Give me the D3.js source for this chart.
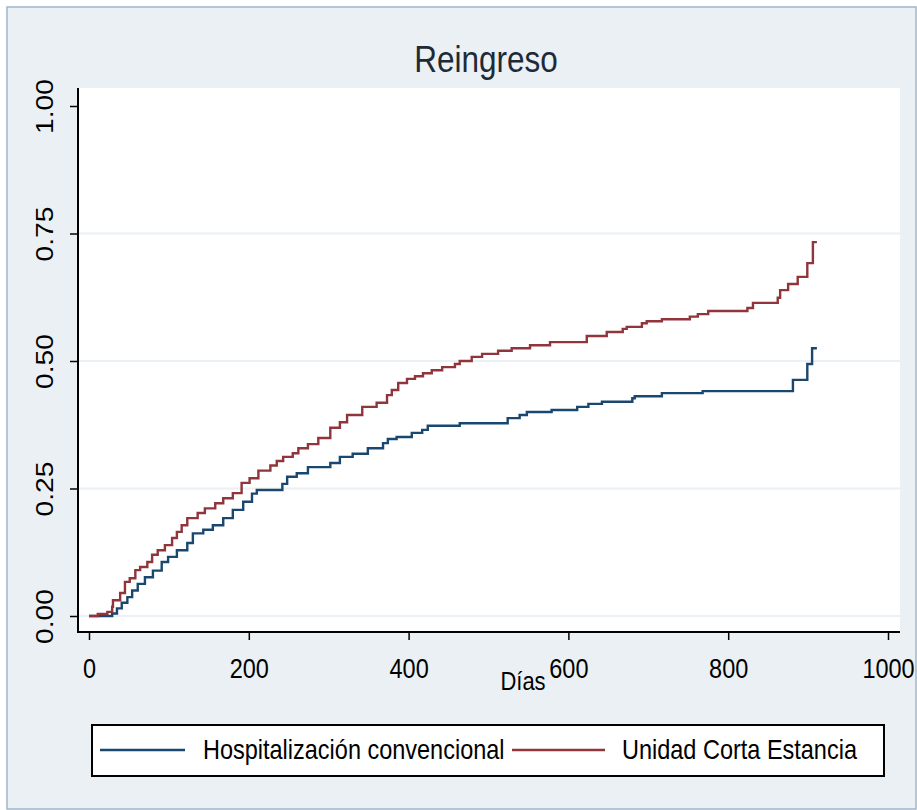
<!doctype html>
<html lang="es">
<head>
  <meta charset="utf-8">
  <title>Reingreso</title>
  <script src="https://cdnjs.cloudflare.com/ajax/libs/d3/7.8.5/d3.min.js"></script>
  <style>
    body { margin: 0; background: #ffffff; }
    text { font-family: "Liberation Sans", Arial, sans-serif; }
  </style>
</head>
<body>
<div id="chart"></div>
<script>

// days and cumulative failure (1 - S)
var convDays = [0, 29, 35, 41, 48, 54, 61, 70, 80, 91, 99, 110, 123, 130, 143, 155, 168, 180, 193, 204, 210,
  242, 248, 260, 274, 302, 314, 330, 349, 368, 374, 385, 404, 417, 424, 464, 524, 539, 548, 579, 611,
  625, 642, 680, 683, 717, 768, 881, 899, 905, 911];
var convVals = [0, 0.005, 0.015, 0.026, 0.037, 0.05, 0.063, 0.076, 0.089, 0.106, 0.116, 0.129, 0.143, 0.162, 0.169, 0.178, 0.192, 0.208, 0.224, 0.24, 0.247,
  0.259, 0.273, 0.28, 0.292, 0.30, 0.312, 0.318, 0.329, 0.339, 0.347, 0.351, 0.359, 0.365, 0.373, 0.378, 0.388, 0.394, 0.40, 0.404, 0.41,
  0.416, 0.42, 0.427, 0.431, 0.437, 0.441, 0.463, 0.494, 0.525, 0.525];

var uceDays = [0, 11, 23, 29, 30, 39, 45, 51, 58, 64, 73, 79, 86, 95, 104, 110, 116, 123, 136, 145, 158, 168, 180,
  191, 201, 212, 227, 235, 243, 255, 262, 274, 287, 302, 314, 323, 342, 360, 373, 379, 387, 398, 408, 418, 429,
  442, 458, 464, 479, 492, 512, 529, 552, 577, 623, 648, 668, 673, 692, 698, 717, 752, 762, 775, 824, 831,
  862, 865, 875, 887, 899, 906, 911];
var uceVals = [0, 0.004, 0.008, 0.018, 0.031, 0.045, 0.067, 0.074, 0.09, 0.096, 0.106, 0.12, 0.129, 0.139, 0.153, 0.165, 0.178, 0.192, 0.202, 0.211, 0.221, 0.231, 0.241,
  0.261, 0.27, 0.285, 0.295, 0.304, 0.312, 0.319, 0.329, 0.337, 0.349, 0.369, 0.38, 0.394, 0.41, 0.418, 0.433, 0.443, 0.457, 0.465, 0.47, 0.476, 0.482,
  0.488, 0.494, 0.5, 0.508, 0.514, 0.52, 0.525, 0.531, 0.537, 0.549, 0.557, 0.563, 0.567, 0.574, 0.578, 0.582, 0.587, 0.592, 0.598, 0.604, 0.614,
  0.624, 0.639, 0.651, 0.665, 0.692, 0.733, 0.733];

var seriesNames = ["Hospitalización convencional", "Unidad Corta Estancia"];
var seriesColors = ["#1a476f", "#90353b"];
var xTicks = [0, 200, 400, 600, 800, 1000];
var yTicks = [0, 0.25, 0.5, 0.75, 1];

var W = 917, H = 810;
var plot = {left: 78, right: 900, top: 88, bottom: 632};
var stretch = 1.2;   // the picture's text is drawn taller than wide

var svg = d3.select("#chart").append("svg")
  .attr("width", W)
  .attr("height", H);

// graph region
svg.append("rect")
  .attr("x", 7).attr("y", 7)
  .attr("width", W - 8).attr("height", H - 8)
  .attr("fill", "#eaf0f3")
  .attr("stroke", "#9fb6cc")
  .attr("stroke-width", 1.5);

svg.append("rect")
  .attr("x", plot.left).attr("y", plot.top)
  .attr("width", plot.right - plot.left).attr("height", plot.bottom - plot.top)
  .attr("fill", "#ffffff");

var x = d3.scaleLinear().domain([0, 1000]).range([89, 888]);
var y = d3.scaleLinear().domain([0, 1]).range([616, 106]);

// grid
svg.selectAll("line.grid")
  .data(yTicks.filter(function(d) { return d < 1; }))
  .enter().append("line")
    .attr("class", "grid")
    .attr("x1", plot.left).attr("x2", plot.right)
    .attr("y1", function(d) { return y(d); })
    .attr("y2", function(d) { return y(d); })
    .attr("stroke", "#eaf0f3")
    .attr("stroke-width", 2);

// curves
var line = d3.line()
  .x(function(d) { return x(d[0]); })
  .y(function(d) { return y(d[1]); })
  .curve(d3.curveStepAfter);

var series = [d3.zip(convDays, convVals), d3.zip(uceDays, uceVals)];
series.forEach(function(s, i) {
  svg.append("path")
    .datum(s)
    .attr("d", line)
    .attr("fill", "none")
    .attr("stroke", seriesColors[i])
    .attr("stroke-width", 2.4);
});

// y axis
var yAxis = svg.append("g")
  .attr("transform", "translate(" + plot.left + ",0)")
  .call(d3.axisLeft(y).tickValues(yTicks).tickSize(8).tickSizeOuter(0).tickFormat(d3.format(".2f")));
yAxis.select(".domain").remove();
yAxis.selectAll(".tick line").attr("stroke", "#000").attr("stroke-width", 1.5);
yAxis.selectAll(".tick text")
  .attr("x", 0).attr("y", 0).attr("dy", 0)
  .attr("text-anchor", "middle")
  .attr("transform", "translate(-25,0) rotate(-90) scale(" + stretch + ",1)")
  .attr("fill", "#000")
  .style("font-size", "23.5px");

// x axis
var xAxis = svg.append("g")
  .attr("transform", "translate(0," + plot.bottom + ")")
  .call(d3.axisBottom(x).tickValues(xTicks).tickSize(8).tickSizeOuter(0).tickFormat(d3.format("d")));
xAxis.select(".domain").remove();
xAxis.selectAll(".tick line").attr("stroke", "#000").attr("stroke-width", 1.5);
xAxis.selectAll(".tick text")
  .attr("y", 0).attr("dy", 0)
  .attr("transform", "translate(0,46) scale(1," + stretch + ")")
  .attr("fill", "#000")
  .style("font-size", "23.5px");

svg.append("line")
  .attr("x1", plot.left).attr("x2", plot.left)
  .attr("y1", plot.top).attr("y2", plot.bottom + 1)
  .attr("stroke", "#000").attr("stroke-width", 2);
svg.append("line")
  .attr("x1", plot.left - 1).attr("x2", plot.right)
  .attr("y1", plot.bottom).attr("y2", plot.bottom)
  .attr("stroke", "#000").attr("stroke-width", 2);

function label(tx, ty, size, anchor, txt, color) {
  return svg.append("text")
    .attr("transform", "translate(" + tx + "," + ty + ") scale(1," + stretch + ")")
    .attr("text-anchor", anchor)
    .attr("fill", color || "#000")
    .style("font-size", size + "px")
    .text(txt);
}

label(523, 690, 22, "middle", "Días");
label(486, 72, 31.5, "middle", "Reingreso", "#1e2a36");

// legend
svg.append("rect")
  .attr("x", 92).attr("y", 725)
  .attr("width", 792).attr("height", 51)
  .attr("fill", "#ffffff")
  .attr("stroke", "#000")
  .attr("stroke-width", 2);

var legendX = [[100, 185, 203], [512, 605, 622]];
seriesNames.forEach(function(name, i) {
  svg.append("line")
    .attr("x1", legendX[i][0]).attr("x2", legendX[i][1])
    .attr("y1", 750).attr("y2", 750)
    .attr("stroke", seriesColors[i])
    .attr("stroke-width", 2.4);
  label(legendX[i][2], 759, 23.5, "start", name);
});

</script>
</body>
</html>
